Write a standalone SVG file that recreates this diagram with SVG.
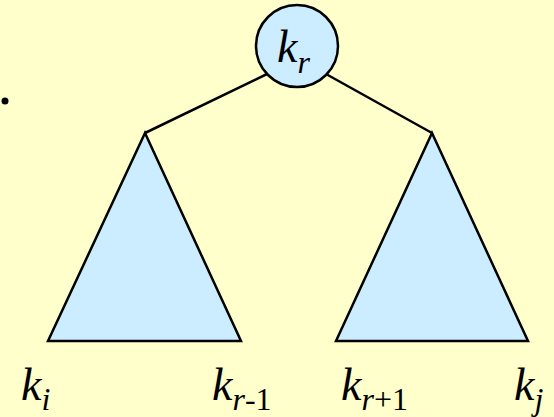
<svg xmlns="http://www.w3.org/2000/svg" width="554" height="417" viewBox="0 0 554 417">
<style>
.bg{fill:#FFFFCC}
.shape{fill:#CCECFF;stroke:#000;stroke-width:2.5;stroke-linejoin:miter}
.edge{stroke:#000;stroke-width:2.5;fill:none}
.t{font-style:italic;font-size:46px;fill:#000}
.s{font-size:32px}
.n{font-style:normal}
</style>
<rect class="bg" x="0" y="0" width="554" height="417"/>
<circle cx="5" cy="101" r="3.5" fill="#000"/>
<g id="connectors">
<line class="edge" x1="267" y1="74" x2="145" y2="133"/>
<line class="edge" x1="326" y1="74" x2="432" y2="133"/>
</g>
<g id="root">
<circle class="shape" cx="297" cy="46" r="41"/>
<text class="t" font-family="Liberation Serif, Times New Roman, serif" x="277" y="62">k<tspan class="s" dy="11">r</tspan></text>
</g>
<g id="left-subtree">
<polygon class="shape" points="145,133 241,341 48,341"/>
</g>
<g id="right-subtree">
<polygon class="shape" points="432,133 528,341 336,341"/>
</g>
<g id="labels" font-family="Liberation Serif, Times New Roman, serif">
<text class="t" x="21" y="400">k<tspan class="s" dy="10">i</tspan></text>
<text class="t" x="212" y="400">k<tspan class="s" dy="10">r</tspan><tspan class="s n">-1</tspan></text>
<text class="t" x="341" y="400">k<tspan class="s" dy="10">r</tspan><tspan class="s n">+1</tspan></text>
<text class="t" x="514" y="400">k<tspan class="s" dy="10">j</tspan></text>
</g>
</svg>
